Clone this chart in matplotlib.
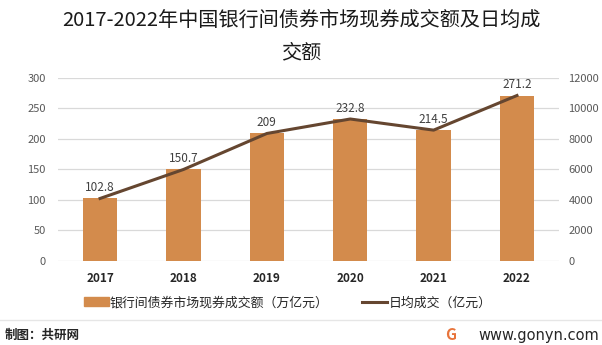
import matplotlib.pyplot as plt
import numpy as np
from matplotlib.patches import Patch
from matplotlib.lines import Line2D

plt.rcParams['font.family'] = ['Noto Sans CJK SC', 'DejaVu Sans']

# data
years = ['2017', '2018', '2019', '2020', '2021', '2022']
turnover = [102.8, 150.7, 209, 232.8, 214.5, 271.2]      # 万亿元
daily_avg = [4100, 6000, 8360, 9310, 8580, 10850]        # 亿元

bar_color = '#D38B4C'
line_color = '#654630'
grid_color = '#D9D9D9'
tick_color = '#595959'

fig = plt.figure(figsize=(6.02, 3.45), dpi=100)
ax = fig.add_axes([0.097, 0.2435, 0.831, 0.5305])
x = np.arange(len(years))

ax.bar(x, turnover, width=0.41, color=bar_color, zorder=2)
for xi, v in zip(x, turnover):
    ax.text(xi, v + 7, f'{v:g}', ha='center', va='bottom', fontsize=8.5, color='#404040', zorder=4)

ax.set_xlim(-0.5, len(years) - 0.5)
ax.set_ylim(0, 300)
ax.set_yticks(range(0, 301, 50))
ax.grid(axis='y', color=grid_color, linewidth=0.9, zorder=0)
ax.set_xticks(x)
ax.set_xticklabels(years, fontsize=8.5, color='#262626', fontweight='bold')
ax.tick_params(axis='x', length=0, pad=8)
ax.tick_params(axis='y', length=0, labelsize=8, labelcolor=tick_color, pad=9)
for s in ax.spines.values():
    s.set_visible(False)

ax2 = ax.twinx()
ax2.plot(x, daily_avg, color=line_color, linewidth=2.2, zorder=3)
ax2.set_ylim(0, 12000)
ax2.set_yticks(range(0, 12001, 2000))
ax2.tick_params(axis='y', length=0, labelsize=8, labelcolor=tick_color, pad=7)
for s in ax2.spines.values():
    s.set_visible(False)

fig.text(0.5, 0.94, '2017-2022年中国银行间债券市场现券成交额及日均成',
         ha='center', va='center', fontsize=14.5, color='#1a1a1a')
fig.text(0.5, 0.848, '交额', ha='center', va='center', fontsize=14.5, color='#1a1a1a')

# legend
handles = [Patch(color=bar_color, label='银行间债券市场现券成交额（万亿元）'),
           Line2D([0], [0], color=line_color, linewidth=2.2, label='日均成交（亿元）')]
fig.legend(handles=handles, loc='center', bbox_to_anchor=(0.478, 0.122), ncol=2,
           frameon=False, fontsize=9.3, handlelength=1.9, handleheight=0.7,
           columnspacing=2.6, handletextpad=0.1, labelcolor='#262626')

# footer
fig.add_artist(Line2D([0, 1], [0.072, 0.072], color='#E6E6E6', linewidth=1, transform=fig.transFigure))
fig.text(0.008, 0.028, '制图：共研网', ha='left', va='center', fontsize=9, fontweight='bold', color='#262626')
fig.text(0.995, 0.028, 'www.gonyn.com', ha='right', va='center', fontsize=10.5, color='#262626',
         family=['DejaVu Sans'])
fig.text(0.748, 0.028, 'G', ha='center', va='center', fontsize=11, fontweight='bold', color='#E8743B')

fig.savefig('out.png', dpi=100)
